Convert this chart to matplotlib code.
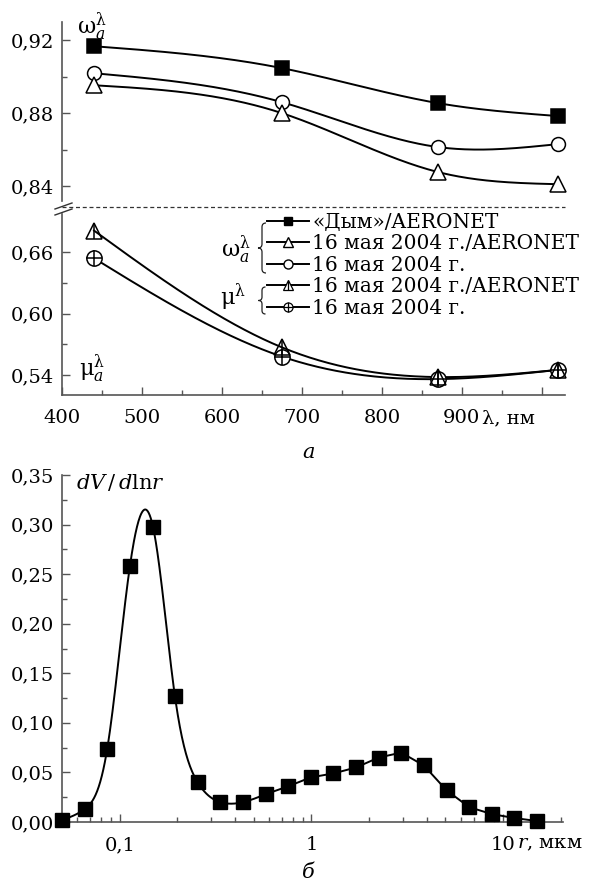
import numpy as np
import matplotlib
matplotlib.use('Agg')
import matplotlib.pyplot as plt
from matplotlib.lines import Line2D
from matplotlib.path import Path
from matplotlib.patches import PathPatch
from matplotlib.legend_handler import HandlerTuple
from matplotlib.ticker import FixedLocator, MultipleLocator, FuncFormatter, LogLocator, NullFormatter

plt.rcParams['font.family'] = ['DejaVu Serif']
plt.rcParams['mathtext.fontset'] = 'dejavuserif'

# ---------------- data ----------------
wavelength = [440, 675, 870, 1020]
omega_smoke_aeronet = [0.9167, 0.9047, 0.8855, 0.8784]
omega_may16_aeronet = [0.8953, 0.8800, 0.8477, 0.8410]
omega_may16 = [0.9019, 0.8860, 0.8614, 0.8630]
mu_may16_aeronet = [0.681, 0.567, 0.538, 0.545]
mu_may16 = [0.654, 0.558, 0.536, 0.545]

radius = [0.05, 0.0656, 0.0861, 0.113, 0.149, 0.194, 0.255, 0.335, 0.439,
          0.576, 0.756, 0.992, 1.302, 1.708, 2.241, 2.94, 3.857, 5.061,
          6.641, 8.713, 11.43, 15.0]
dvdlnr = [0.002, 0.013, 0.074, 0.258, 0.298, 0.127, 0.040, 0.020, 0.020,
          0.028, 0.036, 0.045, 0.049, 0.055, 0.065, 0.070, 0.057, 0.032,
          0.015, 0.008, 0.004, 0.001]

legend_labels = ['«Дым»/AERONET', '16 мая 2004 г./AERONET', '16 мая 2004 г.',
                 '16 мая 2004 г./AERONET', '16 мая 2004 г.']


def natural_spline(x, y, xs):
    x = np.asarray(x, float)
    y = np.asarray(y, float)
    n = len(x)
    h = np.diff(x)
    A = np.zeros((n, n))
    b = np.zeros(n)
    A[0, 0] = A[-1, -1] = 1
    for i in range(1, n - 1):
        A[i, i - 1] = h[i - 1]
        A[i, i] = 2 * (h[i - 1] + h[i])
        A[i, i + 1] = h[i]
        b[i] = 3 * ((y[i + 1] - y[i]) / h[i] - (y[i] - y[i - 1]) / h[i - 1])
    c = np.linalg.solve(A, b)
    a = y[:-1]
    bb = (y[1:] - y[:-1]) / h - h * (2 * c[:-1] + c[1:]) / 3
    d = (c[1:] - c[:-1]) / (3 * h)
    idx = np.clip(np.searchsorted(x, xs) - 1, 0, n - 2)
    t = xs - x[idx]
    return a[idx] + bb[idx] * t + c[idx] * t ** 2 + d[idx] * t ** 3


W, H = 596, 884
fig = plt.figure(figsize=(W / 100, H / 100), dpi=100)


def px(l, t, r, b):
    return [l / W, 1 - b / H, (r - l) / W, (b - t) / H]


def fpt(x, y):
    return (x / W, 1 - y / H)


SP = '#555555'
FS = 14
GFS = 16
LW = 1.4


def comma(v, pos):
    return f'{v:.2f}'.replace('.', ',')


def style(ax):
    for s in ['top', 'right']:
        ax.spines[s].set_visible(False)
    for s in ['left', 'bottom']:
        ax.spines[s].set_color(SP)
        ax.spines[s].set_linewidth(1.2)
    ax.tick_params(which='both', direction='in', color=SP, labelsize=FS)
    ax.tick_params(which='major', length=5.5, width=1.0)
    ax.tick_params(which='minor', length=3.5, width=1.0)
    ax.tick_params(axis='y', pad=6)
    ax.tick_params(axis='x', pad=10)


def brace(xc, yt, yb, w, lw=0.9):
    ym = (yt + yb) / 2
    pts = [(xc + w / 2, yt), (xc, yt), (xc, yt + w / 2),
           (xc, ym - w / 2), (xc, ym), (xc - w / 2, ym),
           (xc, ym), (xc, ym + w / 2),
           (xc, yb - w / 2), (xc, yb), (xc + w / 2, yb)]
    codes = [Path.MOVETO, Path.CURVE3, Path.CURVE3,
             Path.LINETO, Path.CURVE3, Path.CURVE3,
             Path.CURVE3, Path.CURVE3,
             Path.LINETO, Path.CURVE3, Path.CURVE3]
    path = Path([fpt(*p) for p in pts], codes)
    fig.add_artist(PathPatch(path, fill=False, lw=lw, color='#222222',
                             transform=fig.transFigure))


ax_top = fig.add_axes(px(62, 22, 565, 207))
ax_mid = fig.add_axes(px(62, 207, 565, 395))
ax_bot = fig.add_axes(px(62, 475, 563, 822))

for ax in (ax_top, ax_mid, ax_bot):
    style(ax)

xs = np.linspace(wavelength[0], wavelength[-1], 300)

# ---- upper part: omega ----
ax_top.set_xlim(400, 1029)
ax_top.set_ylim(0.8285, 0.93)
ax_top.spines['bottom'].set_visible(False)
ax_top.spines['left'].set_bounds(0.8316, 0.93)
ax_top.tick_params(axis='x', which='both', bottom=False, labelbottom=False)
ax_top.yaxis.set_major_locator(FixedLocator([0.84, 0.88, 0.92]))
ax_top.yaxis.set_minor_locator(FixedLocator([0.86, 0.90]))
ax_top.yaxis.set_major_formatter(FuncFormatter(comma))

for yv, mk, mfc, ms in [(omega_smoke_aeronet, 's', 'k', 9.5),
                        (omega_may16, 'o', 'w', 10),
                        (omega_may16_aeronet, '^', 'w', 12)]:
    ax_top.plot(xs, natural_spline(wavelength, yv, xs), color='k', lw=LW, zorder=2)
    ax_top.plot(wavelength, yv, ls='none', marker=mk, mfc=mfc, mec='k', ms=ms,
                mew=1.1, zorder=3, clip_on=False)

OMEGA = r'$\mathrm{\omega}_a^{\mathrm{\lambda}}$'
fig.text(*fpt(77, 27), OMEGA, fontsize=GFS, ha='left', va='center')

# ---- lower part: mu ----
ax_mid.set_xlim(400, 1029)
ax_mid.set_ylim(0.5205, 0.704)
ax_mid.spines['left'].set_bounds(0.5205, 0.6975)
ax_mid.xaxis.set_major_locator(MultipleLocator(100))
ax_mid.xaxis.set_minor_locator(MultipleLocator(50))
ax_mid.xaxis.set_major_formatter(FuncFormatter(lambda v, p: f'{v:.0f}' if v < 950 else ''))
ax_mid.yaxis.set_major_locator(FixedLocator([0.54, 0.60, 0.66]))
ax_mid.yaxis.set_minor_locator(FixedLocator([0.57, 0.63]))
ax_mid.yaxis.set_major_formatter(FuncFormatter(comma))

ax_mid.plot(xs, natural_spline(wavelength, mu_may16_aeronet, xs), color='k', lw=LW, zorder=2)
ax_mid.plot(xs, natural_spline(wavelength, mu_may16, xs), color='k', lw=LW, zorder=2)
ax_mid.plot(wavelength, mu_may16, ls='none', marker='o', mfc='w', mec='k', ms=11,
            mew=1.1, zorder=3, clip_on=False)
ax_mid.plot(wavelength, mu_may16, ls='none', marker='+', mec='k', ms=11,
            mew=1.1, zorder=4, clip_on=False)
ax_mid.plot(wavelength, mu_may16_aeronet, ls='none', marker='^', mfc='none', mec='k', ms=12,
            mew=1.1, zorder=5, clip_on=False)
ax_mid.plot(wavelength, mu_may16_aeronet, ls='none', marker='|', mec='k', ms=12,
            mew=1.1, zorder=5, clip_on=False)

# dashed break line and break marks
ax_mid.plot([0, 1], [1, 1], transform=ax_mid.transAxes, ls=(0, (3.2, 2.2)),
            lw=0.9, color='#333333', clip_on=False)
for (x0, y0, x1, y1) in [(55, 209, 72, 203), (55, 215, 72, 209)]:
    fig.add_artist(Line2D([x0 / W, x1 / W], [1 - y0 / H, 1 - y1 / H], color='#333333', lw=1.0))

fig.text(*fpt(482, 418), 'λ, нм', fontsize=FS, ha='left', va='center')
fig.text(*fpt(79, 369), r'$\mathrm{\mu}_a^{\mathrm{\lambda}}$', fontsize=GFS, ha='left', va='center')

# legend
h1 = Line2D([], [], color='k', lw=LW, marker='s', ms=5.5, mfc='k', mec='k')
h2 = Line2D([], [], color='k', lw=LW, marker='^', ms=7, mfc='w', mec='k', mew=1.0)
h3 = Line2D([], [], color='k', lw=LW, marker='o', ms=6.5, mfc='w', mec='k', mew=1.0)
h4a = Line2D([], [], color='k', lw=LW, marker='^', ms=6.5, mfc='w', mec='k', mew=0.9)
h4b = Line2D([], [], ls='none', marker='|', ms=6.5, mec='k', mew=0.9)
h5a = Line2D([], [], color='k', lw=LW, marker='o', ms=6.5, mfc='w', mec='k', mew=0.9)
h5b = Line2D([], [], ls='none', marker='+', ms=6.5, mec='k', mew=0.9)
leg = ax_mid.legend([h1, h2, h3, (h4a, h4b), (h5a, h5b)], legend_labels,
                    handler_map={tuple: HandlerTuple(ndivide=1, pad=0)},
                    loc='upper left', bbox_to_anchor=(267 / W, 1 - 213 / H),
                    bbox_transform=fig.transFigure, frameon=False, fontsize=14.5,
                    handlelength=2.1, handletextpad=0.15, labelspacing=0.12,
                    borderpad=0, borderaxespad=0)

brace(262, 223, 273, 8)
brace(262, 287, 314, 7)
fig.text(*fpt(236, 250), OMEGA, fontsize=GFS, ha='center', va='center')
fig.text(*fpt(233, 297), r'$\mathrm{\mu}^{\mathrm{\lambda}}$', fontsize=GFS, ha='center', va='center')

fig.text(*fpt(309, 458), 'а', fontsize=FS + 1, style='italic', ha='center', va='baseline')

# ---- bottom: size distribution ----
ax_bot.set_xscale('log')
ax_bot.set_xlim(0.05, 20.5)
ax_bot.set_ylim(0, 0.35)
ax_bot.xaxis.set_major_locator(FixedLocator([0.1, 1, 10]))
ax_bot.xaxis.set_major_formatter(FuncFormatter(lambda v, p: {0.1: '0,1', 1: '1', 10: '10'}.get(round(v, 3), '')))
ax_bot.xaxis.set_minor_locator(LogLocator(base=10, subs=np.arange(2, 10) * 1.0, numticks=20))
ax_bot.xaxis.set_minor_formatter(NullFormatter())
ax_bot.yaxis.set_major_locator(MultipleLocator(0.05))
ax_bot.yaxis.set_minor_locator(MultipleLocator(0.025))
ax_bot.yaxis.set_major_formatter(FuncFormatter(comma))

lr = np.log10(radius)
n_smooth = 10
ls_ = np.linspace(lr[0], lr[n_smooth - 1], 400)
curve_x = np.concatenate([10 ** ls_, np.asarray(radius[n_smooth:])])
curve_y = np.concatenate([natural_spline(lr[:n_smooth], dvdlnr[:n_smooth], ls_),
                          np.asarray(dvdlnr[n_smooth:])])
ax_bot.plot(curve_x, curve_y, color='k', lw=LW, zorder=2)
ax_bot.plot(radius, dvdlnr, ls='none', marker='s', mfc='k', mec='k', ms=9.5,
            zorder=3, clip_on=False)

fig.text(*fpt(76, 483), r'$dV\,/\,d\mathrm{ln}r$', fontsize=FS + 1, ha='left', va='center')
fig.text(*fpt(517, 844), r'$r$, мкм', fontsize=FS, ha='left', va='center')
fig.text(*fpt(308, 878), 'б', fontsize=FS + 1, style='italic', ha='center', va='baseline')

fig.savefig('out.png', dpi=100)
